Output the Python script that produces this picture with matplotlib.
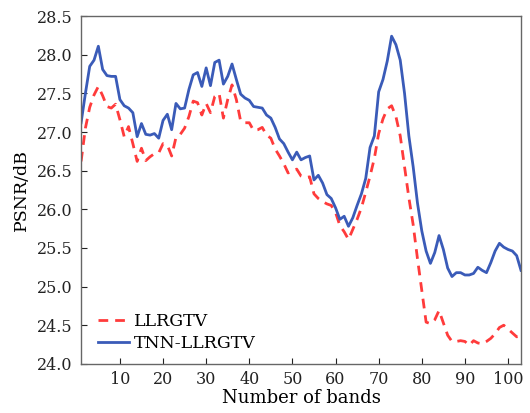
import numpy as np
import matplotlib.pyplot as plt

plt.rcParams['font.family'] = ['DejaVu Serif']
plt.rcParams['mathtext.fontset'] = 'dejavuserif'

# PSNR per band for the two methods
bands = np.arange(1, 104)

psnr_tnn_llrgtv = [
    27.12, 27.50, 27.85, 27.93, 28.11, 27.81, 27.73, 27.72, 27.72, 27.42,
    27.34, 27.31, 27.25, 26.94, 27.11, 26.97, 26.96, 26.98, 26.92, 27.15,
    27.23, 27.03, 27.37, 27.30, 27.31, 27.55, 27.74, 27.77, 27.59, 27.83,
    27.60, 27.90, 27.93, 27.62, 27.72, 27.88, 27.68, 27.49, 27.44, 27.41,
    27.33, 27.32, 27.31, 27.22, 27.18, 27.06, 26.91, 26.85, 26.74, 26.64,
    26.74, 26.64, 26.67, 26.69, 26.38, 26.44, 26.34, 26.19, 26.14, 26.02,
    25.87, 25.91, 25.78, 25.89, 26.05, 26.20, 26.40, 26.80, 26.95, 27.52,
    27.68, 27.92, 28.24, 28.13, 27.93, 27.50, 26.95, 26.55, 26.08, 25.72,
    25.46, 25.30, 25.44, 25.66, 25.48, 25.24, 25.13, 25.18, 25.18, 25.15,
    25.15, 25.17, 25.25, 25.21, 25.18, 25.31, 25.46, 25.56, 25.51, 25.48,
    25.46, 25.40, 25.21,
]

psnr_llrgtv = [
    26.62, 27.05, 27.32, 27.48, 27.59, 27.47, 27.33, 27.31, 27.36, 27.16,
    26.94, 27.07, 26.85, 26.62, 26.79, 26.63, 26.68, 26.72, 26.73, 26.85,
    26.83, 26.69, 26.93, 26.97, 27.05, 27.20, 27.40, 27.38, 27.22, 27.37,
    27.25, 27.46, 27.50, 27.18, 27.42, 27.61, 27.42, 27.14, 27.12, 27.12,
    27.02, 27.03, 27.06, 26.96, 26.92, 26.78, 26.69, 26.59, 26.47, 26.50,
    26.52, 26.43, 26.41, 26.42, 26.20, 26.14, 26.10, 26.07, 26.05, 25.96,
    25.79, 25.71, 25.61, 25.74, 25.87, 26.02, 26.22, 26.43, 26.66, 26.98,
    27.17, 27.30, 27.34, 27.20, 26.95, 26.55, 26.15, 25.80, 25.36, 24.95,
    24.54, 24.52, 24.57, 24.69, 24.53, 24.37, 24.29, 24.29, 24.30, 24.29,
    24.24, 24.30, 24.27, 24.26, 24.29, 24.33, 24.39, 24.47, 24.50, 24.45,
    24.40, 24.35, 24.36,
]

x_ticks = [10, 20, 30, 40, 50, 60, 70, 80, 90, 100]
y_ticks = [24.0, 24.5, 25.0, 25.5, 26.0, 26.5, 27.0, 27.5, 28.0, 28.5]

fig = plt.figure(figsize=(5.30, 4.13), dpi=100)
ax = fig.add_axes([0.153, 0.119, 0.830, 0.842])

ax.plot(bands, psnr_llrgtv, color='#ff3b3b', linestyle=(0, (3.5, 2.5)),
        linewidth=2.0, label='LLRGTV')
ax.plot(bands, psnr_tnn_llrgtv, color='#3a5bb8', linewidth=2.0,
        label='TNN-LLRGTV')

ax.set_xlim(1, 103)
ax.set_ylim(24.0, 28.5)
ax.set_xticks(x_ticks)
ax.set_yticks(y_ticks)
ax.set_yticklabels([f'{v:.1f}' for v in y_ticks])
ax.tick_params(direction='in', length=4, width=0.8, labelsize=11.5,
               colors='#222222', top=False, right=False)
ax.tick_params(axis='y', pad=6)
ax.tick_params(axis='x', pad=5)
for side in ax.spines.values():
    side.set_color('#666666')
    side.set_linewidth(1.0)

ax.set_xlabel('Number of bands', fontsize=13, labelpad=1)
ax.set_ylabel('PSNR/dB', fontsize=12.5, labelpad=5)

ax.legend(loc='lower left', frameon=False, fontsize=12.5, handlelength=1.8,
          handletextpad=0.3, labelspacing=0.25, borderaxespad=0.3,
          bbox_to_anchor=(0.01, 0.0))

fig.savefig('out.png', dpi=100)
